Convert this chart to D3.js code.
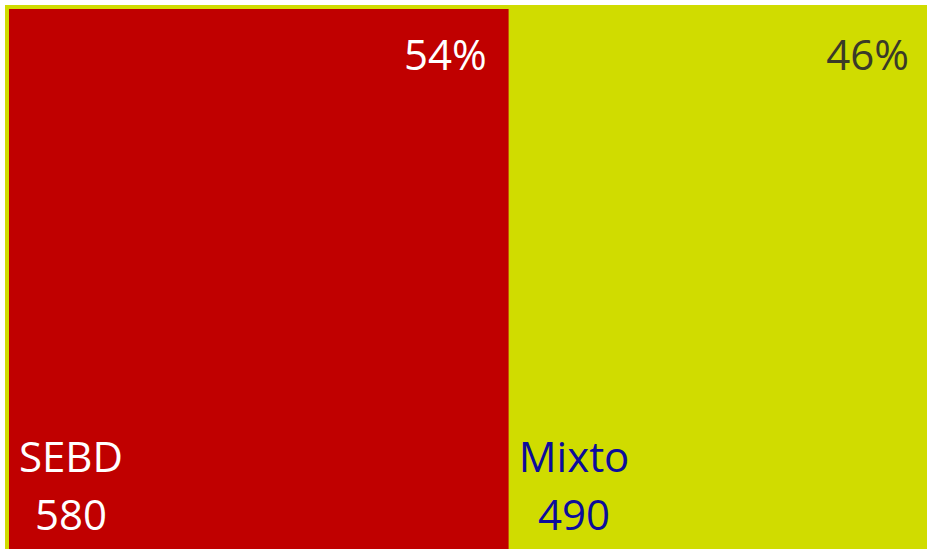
<!DOCTYPE html>
<html>
<head>
<meta charset="utf-8">
<script src="https://cdn.jsdelivr.net/npm/d3@7"></script>
<style>
  body { margin: 0; background: #fff; overflow: hidden; }
  text { font-family: "Open Sans", sans-serif; }
</style>
</head>
<body>
<div id="graph"></div>
<script>
// datos del gráfico
const categorias = ["SEBD", "Mixto"];
const valores = [580, 490];
const colores = ["#c00000", "#d0dc00"];
const colorNombre = ["#ffffff", "#0c0c9c"];
const colorPct = ["#ffffff", "#3a3a28"];

const width = 927, height = 549;
const svg = d3.select("#graph").append("svg")
    .attr("width", width)
    .attr("height", height);

// fondo / marco amarillo
svg.append("rect")
    .attr("x", 5).attr("y", 5)
    .attr("width", width).attr("height", height)
    .attr("fill", colores[1]);

const root = d3.hierarchy({
        children: categorias.map((c, i) => ({ name: c, value: valores[i], i }))
    })
    .sum(d => d.value || 0);

// la zona se sale por la derecha y por abajo del recorte
d3.treemap()
    .tile(d3.treemapDice)
    .size([922, 551])
    .paddingInner(0)(root);

const total = d3.sum(valores);
const plot = svg.append("g").attr("transform", "translate(9,9)");
const hojas = plot.selectAll("g.hoja")
    .data(root.leaves())
    .enter().append("g")
    .attr("class", "hoja");

hojas.append("rect")
    .attr("x", d => d.x0)
    .attr("y", d => d.y0)
    .attr("width", d => d.x1 - d.x0)
    .attr("height", d => d.y1 - d.y0)
    .attr("fill", d => colores[d.data.i]);

// porcentaje arriba a la derecha
hojas.append("text")
    .attr("x", d => d.x1 - 22)
    .attr("y", d => d.y0 + 61)
    .attr("text-anchor", "end")
    .attr("font-size", 42)
    .attr("fill", d => colorPct[d.data.i])
    .text(d => d3.format(".0%")(d.value / total));

// nombre y valor abajo a la izquierda
hojas.each(function(d) {
    const g = d3.select(this);
    const nombre = g.append("text")
        .attr("x", d.x0 + 10)
        .attr("y", 463)
        .attr("font-size", 42)
        .attr("fill", colorNombre[d.data.i])
        .text(d.data.name);
    const w = nombre.node().getComputedTextLength();
    g.append("text")
        .attr("x", d.x0 + 10 + w / 2)
        .attr("y", 521)
        .attr("text-anchor", "middle")
        .attr("font-size", 42)
        .attr("fill", colorNombre[d.data.i])
        .text(d.value);
});
</script>
</body>
</html>
